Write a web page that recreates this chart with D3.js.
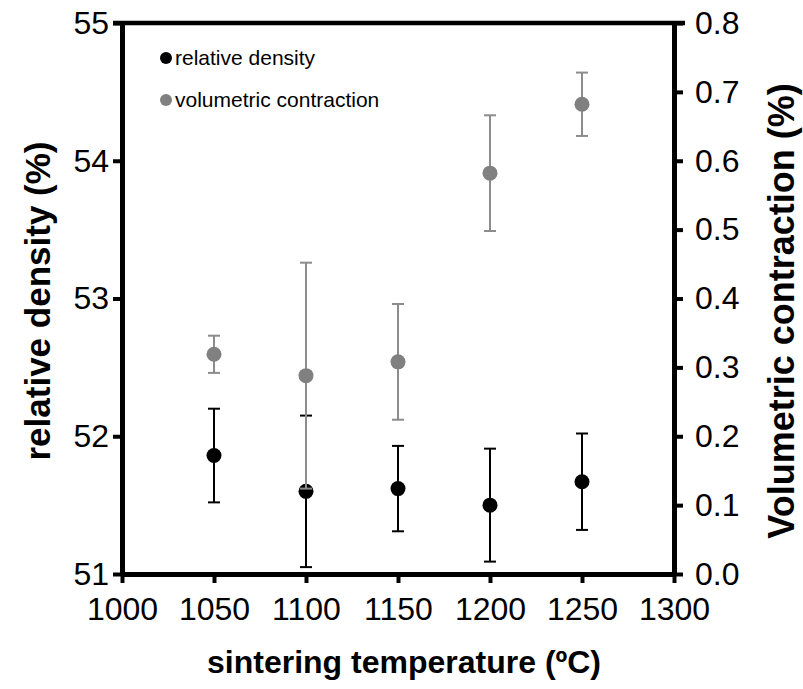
<!DOCTYPE html>
<html><head><meta charset="utf-8">
<script src="https://cdn.jsdelivr.net/npm/d3@7"></script>
<style>body{margin:0;background:#fff}svg{display:block}text{font-family:Arial,"Liberation Sans",sans-serif}</style>
</head><body><div id="c"></div>
<script>
const temps = [1050, 1100, 1150, 1200, 1250];
const densityMean = [51.86, 51.60, 51.62, 51.50, 51.67];
const densityErr = [0.34, 0.55, 0.31, 0.41, 0.35];
const contractionMean = [0.319, 0.288, 0.308, 0.582, 0.682];
const contractionErr = [0.027, 0.164, 0.084, 0.084, 0.046];
const xTicks = [1000, 1050, 1100, 1150, 1200, 1250, 1300];
const yLeftTicks = [51, 52, 53, 54, 55];
const yRightTicks = [0, 0.1, 0.2, 0.3, 0.4, 0.5, 0.6, 0.7, 0.8];
const legendLabels = ["relative density", "volumetric contraction"];

const W = 803, H = 689;
const svg = d3.select("#c").append("svg").attr("width", W).attr("height", H);
const x = d3.scaleLinear().domain([1000, 1300]).range([122, 674]);
const yL = d3.scaleLinear().domain([51, 55]).range([574, 23]);
const yR = d3.scaleLinear().domain([0, 0.8]).range([574, 23]);

// top border
svg.append("line").attr("x1", x(1000) - 9).attr("x2", x(1300) + 11)
  .attr("y1", yL(55)).attr("y2", yL(55)).attr("stroke", "#000").attr("stroke-width", 4.5);

function styleAxis(g) {
  g.select(".domain").attr("stroke-width", 5).attr("stroke", "#000");
  g.selectAll(".tick line").attr("stroke-width", 4).attr("stroke", "#000");
  g.selectAll(".tick text").attr("font-size", 32).attr("fill", "#000")
    .attr("font-family", "Arial, 'Liberation Sans', sans-serif");
}

const gx = svg.append("g").attr("transform", `translate(0,${yL(51)})`)
  .call(d3.axisBottom(x).tickValues(xTicks).tickFormat(d3.format("d")).tickSizeInner(9).tickSizeOuter(0).tickPadding(14));
styleAxis(gx);
const gl = svg.append("g").attr("transform", `translate(${x(1000)},0)`)
  .call(d3.axisLeft(yL).tickValues(yLeftTicks).tickFormat(d3.format("d")).tickSizeInner(9).tickSizeOuter(0).tickPadding(4));
styleAxis(gl);
const gr = svg.append("g").attr("transform", `translate(${x(1300)},0)`)
  .call(d3.axisRight(yR).tickValues(yRightTicks).tickFormat(d3.format(".1f")).tickSizeInner(9).tickSizeOuter(0).tickPadding(12));
styleAxis(gr);

// axis titles
svg.append("text").attr("x", 404).attr("y", 673)
  .attr("text-anchor", "middle").attr("font-weight", "bold").attr("font-size", 32)
  .text("sintering temperature (ºC)");
svg.append("text").attr("transform", `translate(50,301) rotate(-90)`)
  .attr("text-anchor", "middle").attr("font-weight", "bold").attr("font-size", 35)
  .text("relative density (%)");
svg.append("text").attr("transform", `translate(794,311) rotate(-90)`)
  .attr("text-anchor", "middle").attr("font-weight", "bold").attr("font-size", 36)
  .text("Volumetric contraction (%)");

function drawSeries(means, errs, ys, color, lineColor) {
  const g = svg.append("g");
  temps.forEach((t, i) => {
    const cx = x(t), top = ys(means[i] + errs[i]), bot = ys(means[i] - errs[i]);
    g.append("line").attr("x1", cx).attr("x2", cx).attr("y1", top).attr("y2", bot)
      .attr("stroke", lineColor).attr("stroke-width", 2);
    [top, bot].forEach(yy => g.append("line").attr("x1", cx - 6).attr("x2", cx + 6)
      .attr("y1", yy).attr("y2", yy).attr("stroke", lineColor).attr("stroke-width", 2));
  });
  g.selectAll("circle").data(temps).join("circle")
    .attr("cx", d => x(d)).attr("cy", (d, i) => ys(means[i])).attr("r", 7.5).attr("fill", color);
}
drawSeries(densityMean, densityErr, yL, "#000", "#000");
drawSeries(contractionMean, contractionErr, yR, "#808080", "#8c8c8c");

// legend
const lg = svg.append("g");
const legColors = ["#000", "#808080"];
legendLabels.forEach((l, i) => {
  const yy = 58 + i * 42;
  lg.append("circle").attr("cx", 166).attr("cy", yy).attr("r", 6).attr("fill", legColors[i]);
  lg.append("text").attr("x", 175).attr("y", yy + 7).attr("font-size", 21).text(l);
});
</script></body></html>
